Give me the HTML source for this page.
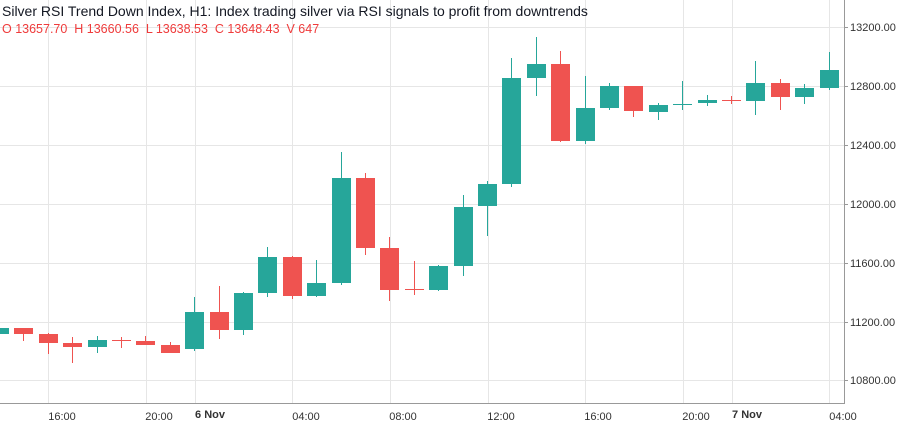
<!DOCTYPE html>
<html><head><meta charset="utf-8"><style>
html,body{margin:0;padding:0;background:#fff;width:904px;height:426px;overflow:hidden}
svg{display:block;font-family:"Liberation Sans",sans-serif}
</style></head><body>
<svg width="904" height="426" xmlns="http://www.w3.org/2000/svg">
<g stroke="#e6e6e6" stroke-width="1">
<line x1="0" x2="844" y1="27.5" y2="27.5"/><line x1="0" x2="844" y1="86.5" y2="86.5"/>
<line x1="0" x2="844" y1="145.5" y2="145.5"/><line x1="0" x2="844" y1="204.5" y2="204.5"/>
<line x1="0" x2="844" y1="263.5" y2="263.5"/><line x1="0" x2="844" y1="322.5" y2="322.5"/>
<line x1="0" x2="844" y1="380.5" y2="380.5"/>
<line x1="48.5" x2="48.5" y1="0" y2="403"/><line x1="146.5" x2="146.5" y1="0" y2="403"/>
<line x1="195.5" x2="195.5" y1="0" y2="403"/><line x1="292.5" x2="292.5" y1="0" y2="403"/>
<line x1="390.5" x2="390.5" y1="0" y2="403"/><line x1="488.5" x2="488.5" y1="0" y2="403"/>
<line x1="585.5" x2="585.5" y1="0" y2="403"/><line x1="683.5" x2="683.5" y1="0" y2="403"/>
<line x1="732.5" x2="732.5" y1="0" y2="403"/><line x1="829.5" x2="829.5" y1="0" y2="403"/>
</g>
<line x1="844.5" x2="844.5" y1="0" y2="403" stroke="#999"/>
<line x1="0" x2="845" y1="403.5" y2="403.5" stroke="#999"/>
<g stroke="#26a69a" fill="#26a69a">
<line x1="-0.5" x2="-0.5" y1="328" y2="334"/><rect x="-10" y="328" width="19" height="6" stroke="none"/>
<line x1="97.5" x2="97.5" y1="336" y2="353"/><rect x="88" y="340" width="19" height="7" stroke="none"/>
<line x1="194.5" x2="194.5" y1="297" y2="351"/><rect x="185" y="312" width="19" height="37" stroke="none"/>
<line x1="243.5" x2="243.5" y1="292" y2="335"/><rect x="234" y="293" width="19" height="37" stroke="none"/>
<line x1="267.5" x2="267.5" y1="247" y2="297"/><rect x="258" y="257" width="19" height="36" stroke="none"/>
<line x1="316.5" x2="316.5" y1="260" y2="297"/><rect x="307" y="283" width="19" height="13" stroke="none"/>
<line x1="341.5" x2="341.5" y1="152" y2="285"/><rect x="332" y="178" width="19" height="105" stroke="none"/>
<line x1="438.5" x2="438.5" y1="265" y2="291"/><rect x="429" y="266" width="19" height="24" stroke="none"/>
<line x1="463.5" x2="463.5" y1="195" y2="276"/><rect x="454" y="207" width="19" height="59" stroke="none"/>
<line x1="487.5" x2="487.5" y1="181" y2="236"/><rect x="478" y="184" width="19" height="22" stroke="none"/>
<line x1="511.5" x2="511.5" y1="58" y2="187"/><rect x="502" y="78" width="19" height="106" stroke="none"/>
<line x1="536.5" x2="536.5" y1="37" y2="96"/><rect x="527" y="64" width="19" height="14" stroke="none"/>
<line x1="585.5" x2="585.5" y1="76" y2="144"/><rect x="576" y="108" width="19" height="33" stroke="none"/>
<line x1="609.5" x2="609.5" y1="83" y2="110"/><rect x="600" y="86" width="19" height="22" stroke="none"/>
<line x1="658.5" x2="658.5" y1="103" y2="120"/><rect x="649" y="105" width="19" height="7" stroke="none"/>
<line x1="682.5" x2="682.5" y1="81" y2="110"/><rect x="673" y="104" width="19" height="1" stroke="none"/>
<line x1="707.5" x2="707.5" y1="95" y2="106"/><rect x="698" y="100" width="19" height="3" stroke="none"/>
<line x1="755.5" x2="755.5" y1="61" y2="115"/><rect x="746" y="83" width="19" height="18" stroke="none"/>
<line x1="804.5" x2="804.5" y1="84" y2="104"/><rect x="795" y="88" width="19" height="9" stroke="none"/>
<line x1="829.5" x2="829.5" y1="52" y2="90"/><rect x="820" y="70" width="19" height="18" stroke="none"/>
</g>
<g stroke="#ef5350" fill="#ef5350">
<line x1="23.5" x2="23.5" y1="328" y2="341"/><rect x="14" y="328" width="19" height="6" stroke="none"/>
<line x1="48.5" x2="48.5" y1="333" y2="354"/><rect x="39" y="334" width="19" height="9" stroke="none"/>
<line x1="72.5" x2="72.5" y1="337" y2="363"/><rect x="63" y="343" width="19" height="4" stroke="none"/>
<line x1="121.5" x2="121.5" y1="337" y2="348"/><rect x="112" y="340" width="19" height="1" stroke="none"/>
<line x1="145.5" x2="145.5" y1="336" y2="345"/><rect x="136" y="341" width="19" height="4" stroke="none"/>
<line x1="170.5" x2="170.5" y1="342" y2="353"/><rect x="161" y="345" width="19" height="8" stroke="none"/>
<line x1="219.5" x2="219.5" y1="286" y2="339"/><rect x="210" y="312" width="19" height="18" stroke="none"/>
<line x1="292.5" x2="292.5" y1="256" y2="299"/><rect x="283" y="257" width="19" height="39" stroke="none"/>
<line x1="365.5" x2="365.5" y1="173" y2="255"/><rect x="356" y="178" width="19" height="70" stroke="none"/>
<line x1="389.5" x2="389.5" y1="237" y2="301"/><rect x="380" y="248" width="19" height="42" stroke="none"/>
<line x1="414.5" x2="414.5" y1="261" y2="295"/><rect x="405" y="289" width="19" height="1" stroke="none"/>
<line x1="560.5" x2="560.5" y1="51" y2="142"/><rect x="551" y="64" width="19" height="77" stroke="none"/>
<line x1="633.5" x2="633.5" y1="86" y2="117"/><rect x="624" y="86" width="19" height="25" stroke="none"/>
<line x1="731.5" x2="731.5" y1="96" y2="104"/><rect x="722" y="100" width="19" height="1" stroke="none"/>
<line x1="780.5" x2="780.5" y1="79" y2="110"/><rect x="771" y="83" width="19" height="14" stroke="none"/>
</g>
<g font-size="11" fill="#333">
<text x="850" y="31">13200.00</text><text x="850" y="90">12800.00</text>
<text x="850" y="149">12400.00</text><text x="850" y="208">12000.00</text>
<text x="850" y="267">11600.00</text><text x="850" y="326">11200.00</text>
<text x="850" y="384">10800.00</text>
</g>
<g stroke="#999"><line x1="844" x2="848" y1="27.5" y2="27.5"/><line x1="844" x2="848" y1="86.5" y2="86.5"/><line x1="844" x2="848" y1="145.5" y2="145.5"/><line x1="844" x2="848" y1="204.5" y2="204.5"/><line x1="844" x2="848" y1="263.5" y2="263.5"/><line x1="844" x2="848" y1="322.5" y2="322.5"/><line x1="844" x2="848" y1="380.5" y2="380.5"/></g>
<g font-size="11" fill="#333" text-anchor="middle">
<text x="62" y="420">16:00</text><text x="159" y="420">20:00</text>
<text x="210" y="418" font-weight="bold">6 Nov</text><text x="306" y="420">04:00</text>
<text x="403" y="420">08:00</text><text x="501" y="420">12:00</text>
<text x="598" y="420">16:00</text><text x="696" y="420">20:00</text>
<text x="747" y="418" font-weight="bold">7 Nov</text><text x="843" y="420">04:00</text>
</g>
<text x="2" y="16" font-size="14" fill="#131722">Silver RSI Trend Down Index, H1: Index trading silver via RSI signals to profit from downtrends</text>
<text x="2" y="33" font-size="12.5" fill="#ef3b3b" xml:space="preserve">O 13657.70  H 13660.56  L 13638.53  C 13648.43  V 647</text>
</svg>
</body></html>
